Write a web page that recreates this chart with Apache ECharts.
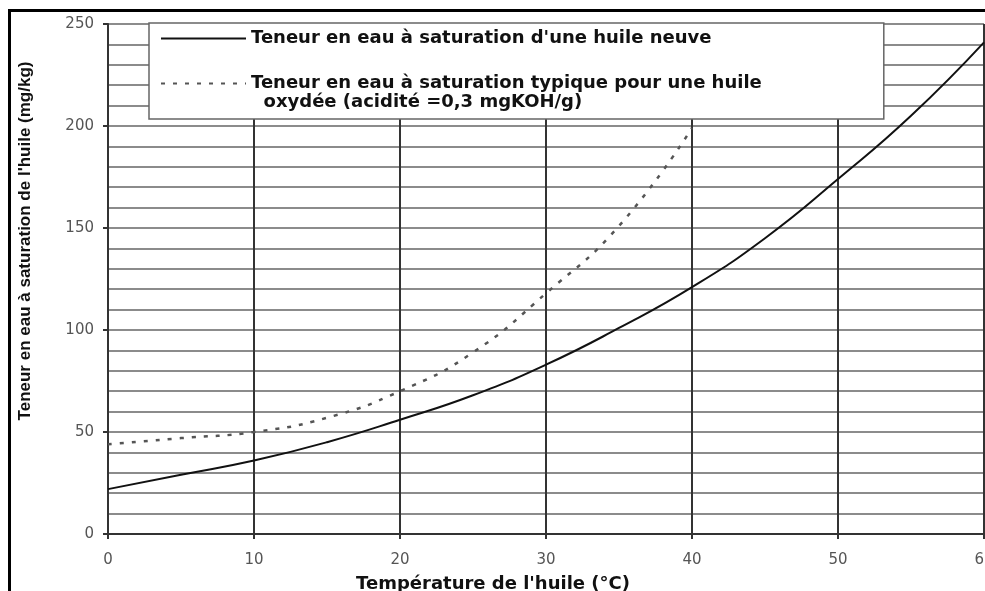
<!DOCTYPE html>
<html><head><meta charset="utf-8">
<script src="https://cdn.jsdelivr.net/npm/echarts@6/dist/echarts.min.js"></script>
<style>html,body{margin:0;padding:0;background:#fff}#c{width:985px;height:591px}</style>
</head><body><div id="c"></div>
<script>
// Temperature (°C)
const tempNeuve = [0, 5, 10, 15, 20, 25, 30, 35, 40, 45, 50, 55, 60];
const eauNeuve  = [22, 29, 36, 45, 56, 68, 83, 101, 121, 145, 174, 205, 241];
const tempOxydee = [0, 5, 10, 15, 20, 25, 30, 35, 40];
const eauOxydee  = [44, 47, 50, 57, 70, 89, 118, 151, 199];
const xTicks = [0, 10, 20, 30, 40, 50, 60];
const yTicks = [0, 50, 100, 150, 200, 250];
const nameNeuve = "Teneur en eau à saturation d'une huile neuve";
const nameOxydee = "Teneur en eau à saturation typique pour une huile";
const nameOxydee2 = "  oxydée (acidité =0,3 mgKOH/g)";
const xTitle = "Température de l'huile (°C)";
const yTitle = "Teneur en eau à saturation de l'huile (mg/kg)";

const chart = echarts.init(document.getElementById('c'), null, {renderer: 'canvas'});
const boldFont = 'DejaVu Sans';
chart.setOption({
  animation: false,
  backgroundColor: '#fff',
  grid: {left: 108, right: 1, top: 24, bottom: 57, containLabel: false, outerBoundsMode: 'none'},
  xAxis: {
    type: 'value', min: xTicks[0], max: xTicks[xTicks.length - 1], interval: 10,
    name: xTitle, nameLocation: 'middle', nameGap: 41,
    nameTextStyle: {fontFamily: boldFont, fontWeight: 'bold', fontSize: 18, color: '#111', padding: [0, 106, 0, 0]},
    axisLine: {show: true, onZero: false, lineStyle: {color: '#333', width: 2}},
    axisTick: {show: true, length: 5, lineStyle: {color: '#333', width: 2}},
    axisLabel: {fontFamily: 'DejaVu Sans', fontSize: 15, color: '#555', margin: 19, hideOverlap: false},
    splitLine: {show: true, lineStyle: {color: '#333', width: 2}}
  },
  yAxis: {
    type: 'value', min: yTicks[0], max: yTicks[yTicks.length - 1], interval: 50,
    name: yTitle, nameLocation: 'middle', nameGap: 74, nameRotate: 90,
    nameTextStyle: {fontFamily: 'Liberation Sans', fontWeight: 'bold', fontSize: 17, color: '#111', padding: [0, 0, 0, 76]},
    axisLine: {show: true, lineStyle: {color: '#333', width: 2}},
    axisTick: {show: true, length: 5, lineStyle: {color: '#333', width: 2}},
    axisLabel: {fontFamily: 'DejaVu Sans', fontSize: 15, color: '#555', margin: 14},
    splitLine: {show: true, lineStyle: {color: '#666', width: 1.5}},
    minorTick: {show: false, splitNumber: 5},
    minorSplitLine: {show: true, lineStyle: {color: '#666', width: 1.5}}
  },
  legend: {
    orient: 'vertical', left: 149, top: 23,
    backgroundColor: '#fff', borderColor: '#666', borderWidth: 1.5,
    padding: [6, 122, 7, 11], itemGap: 7, itemWidth: 85, itemHeight: 14,
    itemStyle: {opacity: 0},
    textStyle: {fontFamily: boldFont, fontWeight: 'bold', fontSize: 18, color: '#111', lineHeight: 19},
    formatter: function (n) { return n === nameOxydee ? '\n' + nameOxydee + '\n' + nameOxydee2 : n; },
    data: [nameNeuve, nameOxydee]
  },
  graphic: [{
    type: 'rect', left: 7, top: 8, z: 100, silent: true,
    shape: {width: 1000, height: 620},
    style: {fill: null, stroke: '#000', lineWidth: 3}
  }],
  series: [
    {name: nameNeuve, type: 'line', smooth: true, symbol: 'none',
     data: tempNeuve.map((t, i) => [t, eauNeuve[i]]),
     lineStyle: {color: '#111', width: 2, type: 'solid'}, itemStyle: {color: '#111'}},
    {name: nameOxydee, type: 'line', smooth: true, symbol: 'none',
     data: tempOxydee.map((t, i) => [t, eauOxydee[i]]),
     lineStyle: {color: '#555', width: 2.5, type: [4, 8]}, itemStyle: {color: '#555'}}
  ]
});
</script></body></html>
